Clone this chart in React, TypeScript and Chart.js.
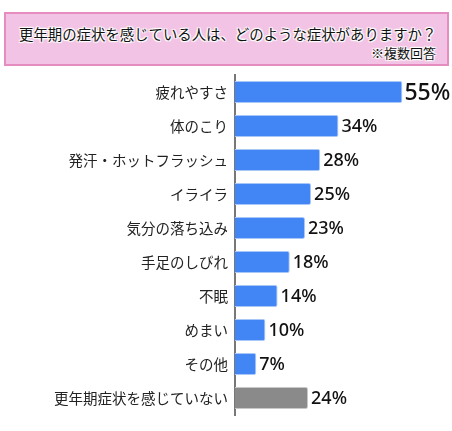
import React, { useEffect, useRef } from 'react';
import { Chart, registerables } from 'chart.js';

Chart.register(...registerables);

const categories = [
  '疲れやすさ',
  '体のこり',
  '発汗・ホットフラッシュ',
  'イライラ',
  '気分の落ち込み',
  '手足のしびれ',
  '不眠',
  'めまい',
  'その他',
  '更年期症状を感じていない',
];
const values = [55, 34, 28, 25, 23, 18, 14, 10, 7, 24];
const title = '更年期の症状を感じている人は、どのような症状がありますか？';
const note = '※複数回答';

const BLUE = '#4285f4';
const GRAY = '#8a8a8a';
const JP = '"Noto Sans CJK JP", "Noto Sans", sans-serif';

const valueLabels = {
  id: 'valueLabels',
  afterDatasetsDraw(chart: Chart) {
    const { ctx } = chart;
    const meta = chart.getDatasetMeta(0);
    const top = Math.max(...values);
    ctx.save();
    ctx.textBaseline = 'middle';
    ctx.textAlign = 'left';
    ctx.fillStyle = '#111';
    meta.data.forEach((bar: any, i: number) => {
      const v = values[i];
      const big = v === top;
      ctx.font = `500 ${big ? 23 : 18}px "Noto Sans", sans-serif`;
      ctx.fillText(`${v}%`, bar.x + (big ? 2 : 3), bar.y + 1);
    });
    ctx.restore();
  },
};

export default function App() {
  const canvasRef = useRef<HTMLCanvasElement>(null);
  const chartRef = useRef<Chart | null>(null);

  useEffect(() => {
    document.body.style.margin = '0';
    if (!canvasRef.current) return;
    if (chartRef.current) chartRef.current.destroy();

    chartRef.current = new Chart(canvasRef.current, {
      type: 'bar',
      data: {
        labels: categories,
        datasets: [{
          data: values,
          backgroundColor: (c: any) => (c.dataIndex === categories.length - 1 ? GRAY : BLUE),
          borderColor: (c: any) => (c.dataIndex === categories.length - 1 ? '#c8c8c8' : '#a9c8f8'),
          borderWidth: 1,
          borderRadius: 2,
          borderSkipped: 'left',
          barPercentage: 0.65,
          categoryPercentage: 1,
        }],
      },
      options: {
        indexAxis: 'y' as const,
        animation: false,
        responsive: false,
        layout: { padding: { top: 75, bottom: 16, right: 7, left: 0 } },
        scales: {
          x: { display: false, min: 0, max: 69 },
          y: {
            afterFit: (s: any) => { s.width = 235; },
            grid: { display: false, drawTicks: false },
            border: { display: true, color: '#777', width: 2 },
            ticks: { color: '#222', padding: 7, font: { size: 14.5, family: JP } },
          },
        },
        plugins: {
          legend: { display: false },
          tooltip: { enabled: false },
        },
      },
      plugins: [valueLabels],
    });

    return () => { if (chartRef.current) chartRef.current.destroy(); chartRef.current = null; };
  }, []);

  const halo = '0 0 2px #fff, 0 0 2px #fff, 1px 1px 1px #fff, -1px -1px 1px #fff, 1px -1px 1px #fff, -1px 1px 1px #fff';

  return (
    <div style={{ position: 'relative', width: 452, height: 431 }}>
      <canvas ref={canvasRef} width={452} height={431} style={{ position: 'absolute', left: 0, top: 0 }} />
      <div style={{
        position: 'absolute', left: 4, top: 12, width: 441, height: 50,
        background: '#f2c3e4', border: '2px solid #e58cc0', fontFamily: JP, color: '#111',
      }}>
        <div style={{ position: 'absolute', left: 13, top: 10, fontSize: 14.4, lineHeight: '20px', whiteSpace: 'nowrap', textShadow: halo }}>{title}</div>
        <div style={{ position: 'absolute', right: 11, top: 31, fontSize: 13, lineHeight: '16px', whiteSpace: 'nowrap', textShadow: halo }}>{note}</div>
      </div>
    </div>
  );
}
